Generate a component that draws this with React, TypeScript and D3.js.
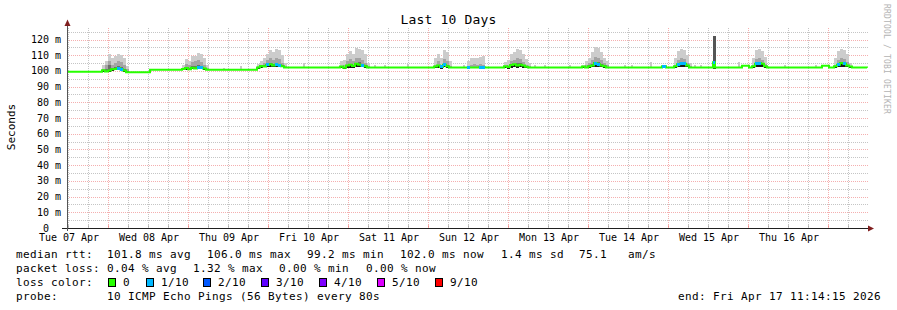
import React from 'react';
import * as d3 from 'd3';

const W = 897;
const H = 310;
const START = Date.UTC(2026, 3, 7, 11, 42);
const SPAN_HOURS = 240;

const title = 'Last 10 Days';
const yLabel = 'Seconds';
const watermark = 'RRDTOOL / TOBI OETIKER';
const dayLabels = ['Tue 07 Apr', 'Wed 08 Apr', 'Thu 09 Apr', 'Fri 10 Apr', 'Sat 11 Apr', 'Sun 12 Apr', 'Mon 13 Apr', 'Tue 14 Apr', 'Wed 15 Apr', 'Thu 16 Apr'];
const yTicks = [0, 10, 20, 30, 40, 50, 60, 70, 80, 90, 100, 110, 120];

// [hours since start, median ms, lost pings]
const medianPts: [number, number, number][] = [
  [0, 99.4, 0],
  [10.5, 100.5, 0], [11.4, 99.6, 0], [12.3, 100.2, 0], [13.2, 101.0, 0], [14.1, 101.3, 0],
  [15.0, 101.8, 1], [15.9, 101.0, 1], [16.8, 100.3, 0], [17.7, 99.2, 0],
  [24.9, 100.8, 0],
  [34.5, 101.2, 0], [35.4, 101.8, 0], [36.3, 101.0, 0], [37.2, 102.0, 0], [38.1, 101.5, 0],
  [39.0, 102.3, 1], [39.9, 102.0, 1], [40.8, 101.5, 0], [41.7, 100.8, 0],
  [57.0, 102.2, 0], [57.9, 103.2, 0], [58.8, 102.8, 0], [59.7, 103.8, 1], [60.6, 104.2, 0],
  [61.5, 103.5, 0], [62.4, 104.0, 1], [63.3, 103.6, 1], [64.2, 103.0, 0], [65.1, 102.2, 0],
  [81.9, 102.8, 0], [82.8, 102.0, 0], [83.7, 103.5, 0], [84.6, 104.0, 0], [85.5, 103.2, 0],
  [86.4, 104.5, 0], [87.3, 104.0, 0], [88.2, 103.5, 1], [89.1, 103.0, 0], [90.0, 102.2, 0],
  [110.1, 102.8, 0], [111.0, 103.5, 0], [111.9, 102.5, 1], [112.8, 104.0, 1], [113.7, 103.0, 0], [114.6, 102.2, 0],
  [120.0, 102.2, 1], [120.9, 102.2, 0], [123.6, 102.4, 1], [125.4, 102.2, 0],
  [131.1, 103.0, 0], [132.0, 102.5, 0], [132.9, 103.8, 0], [133.8, 104.2, 0], [134.7, 103.5, 0],
  [135.6, 104.0, 0], [136.5, 103.5, 0], [137.4, 102.6, 0], [138.3, 102.2, 0],
  [154.5, 102.8, 0], [155.4, 102.2, 0], [156.3, 103.0, 0], [157.2, 103.5, 0], [158.1, 105.0, 1],
  [159.0, 104.2, 1], [159.9, 103.5, 0], [160.8, 103.0, 0], [161.7, 102.2, 0],
  [178.5, 103.0, 1], [179.7, 102.2, 0],
  [182.1, 103.0, 0], [183.0, 104.2, 1], [183.9, 104.8, 1], [184.8, 104.5, 1], [185.7, 103.5, 0], [186.6, 102.2, 0],
  [193.8, 105.5, 1], [194.4, 102.2, 0],
  [202.5, 103.3, 0], [204.6, 102.2, 0],
  [205.5, 103.0, 0], [206.4, 104.5, 1], [207.3, 105.0, 1], [208.2, 104.5, 0], [209.1, 103.0, 0], [210.0, 102.2, 0],
  [226.5, 103.3, 0], [228.6, 102.2, 0],
  [230.1, 103.0, 0], [231.0, 104.0, 1], [231.9, 105.0, 0], [232.8, 104.5, 1], [233.7, 103.5, 0],
  [234.6, 102.8, 0], [235.5, 102.2, 0],
  [240, 102.0, 0],
];

// [hours since start, lowest ping, dark band top, mid band top, highest ping]
const smoke: [number, number, number, number, number][] = [
  [10.5, 99.4, 100.5, 101, 103.5], [11.4, 99.0, 101.5, 104, 106], [12.3, 99.5, 104, 106, 110.5],
  [13.2, 100.0, 102, 104, 108], [14.1, 100.5, 102.5, 105, 109.5], [15.0, 100.5, 103, 106, 111],
  [15.9, 100.0, 102.5, 105.5, 110], [16.8, 99.5, 101.5, 104, 108], [17.7, 99.3, 100, 101, 103],

  [34.5, 100.5, 101.2, 102, 104], [35.4, 100.3, 102.5, 104.5, 107.5], [36.3, 100.8, 101.8, 103.5, 106],
  [37.2, 101.0, 103, 105.5, 109.5], [38.1, 101.0, 103, 106, 109.5], [39.0, 101.2, 104, 107, 111.5],
  [39.9, 101.0, 103, 105.5, 110.5], [40.8, 100.8, 102, 104, 108.5], [41.7, 100.6, 101.2, 102, 104],

  [57.0, 101.5, 102.5, 103, 104.5], [57.9, 102.0, 103, 104, 106], [58.8, 102.5, 103.5, 105, 108],
  [59.7, 102.5, 104.5, 107, 110.5], [60.6, 102.8, 105, 108, 113], [61.5, 102.5, 104.5, 107, 112],
  [62.4, 102.8, 105, 108, 114], [63.3, 102.5, 104.5, 107.5, 113], [64.2, 102.3, 103.5, 105, 110],
  [65.1, 102.0, 102.5, 103, 105],

  [81.9, 101.8, 102.5, 103, 106], [82.8, 101.5, 102.8, 104, 107], [83.7, 102.0, 104, 106, 110.5],
  [84.6, 102.0, 104.5, 107.5, 112.5], [85.5, 101.8, 104, 106, 111], [86.4, 102.2, 105, 108, 114.5],
  [87.3, 102.5, 105.5, 108.5, 114], [88.2, 102.3, 104.5, 107, 113], [89.1, 102.0, 103.5, 105, 110.5],
  [90.0, 101.8, 102.5, 103, 105],

  [110.1, 101.8, 103, 104, 108.5], [111.0, 102.0, 104, 106, 111], [111.9, 101.5, 103, 104, 108],
  [112.8, 102.3, 104.5, 107.5, 113.5], [113.7, 102.0, 104, 106, 112], [114.6, 101.8, 102.5, 103, 106],

  [120.0, 101.8, 102.3, 103, 106], [120.9, 102.0, 102.5, 104, 108.5], [121.8, 102.0, 102.5, 104.5, 108.5],
  [122.7, 102.0, 102.5, 104, 108], [123.6, 102.0, 102.6, 104.5, 109], [124.5, 101.8, 102.5, 104, 109.5],

  [131.1, 101.8, 102.5, 103, 105.5], [132.0, 101.5, 102.8, 104, 107], [132.9, 102.0, 104, 106, 111],
  [133.8, 102.2, 104.5, 107, 112], [134.7, 102.0, 105, 108, 114], [135.6, 102.3, 104.8, 107.5, 113.5],
  [136.5, 102.0, 103.8, 105.5, 110.5], [137.4, 101.8, 103, 104, 107.5], [138.3, 101.6, 102.3, 103, 105],

  [154.5, 101.8, 102.3, 102.8, 104], [155.4, 101.8, 102.6, 103.5, 106], [156.3, 102.0, 103.5, 105, 108.5],
  [157.2, 102.2, 104.5, 107, 112], [158.1, 102.5, 105.5, 109, 115.5], [159.0, 102.8, 105.5, 108.5, 114.5],
  [159.9, 102.5, 104.5, 107, 112], [160.8, 102.0, 103.5, 105, 108.5], [161.7, 101.8, 102.6, 103.5, 106],

  [182.1, 102.0, 103, 104, 108], [183.0, 102.5, 104.5, 107, 112.5], [183.9, 102.8, 105, 108, 114],
  [184.8, 102.5, 104.8, 107.5, 113.5], [185.7, 102.2, 103.5, 105, 110], [186.6, 101.8, 102.5, 103, 105],

  [193.8, 101.5, 122.4, 122.4, 122.4],

  [205.5, 102.0, 103, 104, 108], [206.4, 102.5, 105, 107.5, 113.5], [207.3, 102.8, 105.5, 108, 114],
  [208.2, 102.5, 104.5, 107, 112.5], [209.1, 102.0, 103.2, 104.5, 109],

  [230.1, 101.8, 103, 104, 108], [231.0, 102.5, 104.5, 107, 112.5], [231.9, 102.8, 105.5, 108.5, 114],
  [232.8, 102.5, 105, 107.5, 113.5], [233.7, 102.2, 104, 105.5, 110.5], [234.6, 101.8, 102.5, 103, 105],
];

// isolated single outlier pings: [hours since start, highest ping]
const blips: [number, number][] = [
  [46.8, 101.8], [51.9, 103.3], [70.8, 105], [92.1, 104], [95.1, 104], [102.0, 104.5],
  [118.8, 104], [140.1, 104], [143.1, 103.5], [150.6, 103.5], [167.1, 104], [169.2, 103.6],
  [174.9, 105.6], [188.1, 103.8], [189.9, 103.5], [201.3, 105.6], [215.1, 104], [224.4, 103.8],
];

const lossColors = ['#26ff00', '#00b8ff', '#0059ff', '#5e00ff', '#7e00ff', '#dd00ff', '#ff0000'];
const lossLabels = ['0', '1/10', '2/10', '3/10', '4/10', '5/10', '9/10'];

const rttLegend = [
  { text: '101.8 ms avg', x: 107 },
  { text: '106.0 ms max', x: 207 },
  { text: '99.2 ms min', x: 307 },
  { text: '102.0 ms now', x: 400 },
  { text: '1.4 ms sd', x: 501 },
  { text: '75.1   am/s', x: 579 },
];
const lossLegend = [
  { text: '0.04 % avg', x: 107 },
  { text: '1.32 % max', x: 193 },
  { text: '0.00 % min', x: 279 },
  { text: '0.00 % now', x: 366 },
];
const lossBoxX = [108, 146, 203, 261, 319, 377, 435];
const probeText = '10 ICMP Echo Pings (56 Bytes) every 80s';
const endText = 'end: Fri Apr 17 11:14:15 2026';

const MONO = '"DejaVu Sans Mono", "Liberation Mono", monospace';
const toDate = (h: number) => new Date(START + h * 3600e3);

const GRID_MINOR = 'rgba(150,150,150,0.55)';
const GRID_MAJOR = 'rgba(235,110,110,0.55)';

export default function App() {
  const x = d3.scaleTime().domain([toDate(0), toDate(SPAN_HOURS)]).range([67, 867]);
  const y = d3.scaleLinear().domain([0, 120]).range([228, 39.5]);
  const plotTop = 28;
  const colW = 0.9;

  const hGrid = d3.range(5, 130, 5).filter((v) => y(v) >= plotTop);
  const vGrid = d3.utcHour.every(6)!.range(toDate(0), toDate(SPAN_HOURS));
  const noonList = d3.utcDay
    .range(new Date(Date.UTC(2026, 3, 7)), toDate(SPAN_HOURS))
    .map((d) => new Date(+d + 12 * 3600e3));

  const bis = d3.bisector((d: [number, number, number]) => d[0]).right;
  const medianAt = (h: number) => medianPts[Math.max(0, bis(medianPts, h) - 1)][1];

  const lineGen = d3.line<[number, number, number]>()
    .x((d) => x(toDate(d[0])))
    .y((d) => y(d[1]))
    .curve(d3.curveStepAfter);

  const crisp = (v: number) => Math.round(v) + 0.5;

  return (
    <svg width={W} height={H} style={{ position: 'absolute', left: 0, top: 0, background: '#ffffff' }} fontFamily={MONO}>
      <rect x={0} y={0} width={W} height={H} fill="#ffffff" />
      {/* grid */}
      <g shapeRendering="crispEdges">
        {hGrid.map((v) => (
          <line key={'h' + v} x1={67} x2={869} y1={crisp(y(v))} y2={crisp(y(v))}
            stroke={v % 10 === 0 ? GRID_MAJOR : GRID_MINOR} strokeDasharray="1,1" />
        ))}
        {vGrid.map((d) => {
          const major = d.getUTCHours() === 0;
          const xx = crisp(x(d));
          const col = major ? GRID_MAJOR : GRID_MINOR;
          return (
            <g key={'v' + +d}>
              <line x1={xx} x2={xx} y1={plotTop} y2={228} stroke={col} strokeDasharray="1,1" />
              <line x1={xx} x2={xx} y1={225} y2={228} stroke={col} />
            </g>
          );
        })}
      </g>
      {/* smoke */}
      <g shapeRendering="crispEdges">
        {blips.map(([h, top], i) => (
          <rect key={'b' + i} x={x(toDate(h))} width={x(toDate(h + 0.6)) - x(toDate(h))}
            y={y(top)} height={y(medianAt(h)) - y(top)} fill="#c8c8c8" />
        ))}
        {smoke.map(([h, lo, dark, mid, top], i) => {
          const x0 = x(toDate(h));
          const w = x(toDate(h + colW)) - x0;
          const med = medianAt(h);
          return (
            <g key={'s' + i}>
              <rect x={x0} width={w} y={y(top)} height={y(lo) - y(top)} fill="#cccccc" />
              <rect x={x0} width={w} y={y(mid)} height={y(lo) - y(mid)} fill="#a4a4a4" />
              <rect x={x0} width={w} y={y(dark)} height={y(lo) - y(dark)} fill={top === mid ? '#555555' : '#6e6e6e'} />
              {lo < med ? <rect x={x0} width={w} y={y(med)} height={y(lo) - y(med)} fill="#1a1a1a" /> : null}
            </g>
          );
        })}
      </g>
      {/* median */}
      <path d={lineGen(medianPts) || ''} fill="none" stroke={lossColors[0]} strokeWidth={2} />
      <g shapeRendering="crispEdges">
        {medianPts.slice(0, -1).map((p, i) => p[2] > 0 ? (
          <rect key={'l' + i} x={x(toDate(p[0]))} width={x(toDate(medianPts[i + 1][0])) - x(toDate(p[0]))}
            y={y(p[1]) - 1.5} height={3} fill={lossColors[p[2]]} />
        ) : null)}
      </g>
      {/* axes */}
      <g shapeRendering="crispEdges">
        <line x1={62} x2={869} y1={228.5} y2={228.5} stroke="#1f1f1f" />
        <line x1={67.5} x2={67.5} y1={231} y2={25} stroke="#555555" />
      </g>
      <polygon points="874,228.5 868,225.5 868,231.5" fill="#801f1f" />
      <polygon points="67.5,19.5 64.5,26 70.5,26" fill="#801f1f" />
      {/* y labels */}
      <g fontSize={10} fill="#000">
        {yTicks.map((v) => (
          <text key={'yl' + v} x={v === 0 ? 49 : 61} y={y(v) + 3.5} textAnchor="end">{v === 0 ? '0' : `${v} m`}</text>
        ))}
      </g>
      {/* x labels */}
      <g fontSize={10} fill="#000">
        {noonList.slice(0, dayLabels.length).map((d, i) => (
          <text key={'xl' + i} x={x(d) + 1} y={241} textAnchor="middle">{dayLabels[i]}</text>
        ))}
      </g>
      <text x={448.5} y={24} textAnchor="middle" fontSize={13} letterSpacing={0.17}>{title}</text>
      <text transform="translate(15,127) rotate(-90)" textAnchor="middle" fontSize={11}>{yLabel}</text>
      <text transform="translate(884,4) rotate(90)" fontSize={8} letterSpacing={0.18} fill="#b3b3b3">{watermark}</text>
      {/* legend */}
      <g fontSize={11} letterSpacing={0.38} fill="#000">
        <text x={16} y={258}>median rtt:</text>
        {rttLegend.map((s, i) => <text key={'r' + i} x={s.x} y={258} style={{ whiteSpace: 'pre' }}>{s.text}</text>)}
        <text x={16} y={272}>packet loss:</text>
        {lossLegend.map((s, i) => <text key={'p' + i} x={s.x} y={272}>{s.text}</text>)}
        <text x={16} y={286}>loss color:</text>
        {lossBoxX.map((bx, i) => (
          <g key={'c' + i}>
            <rect x={bx + 0.5} y={278.5} width={7} height={8} fill={lossColors[i]} stroke="#000" shapeRendering="crispEdges" />
            <text x={bx + 15} y={286}>{lossLabels[i]}</text>
          </g>
        ))}
        <text x={16} y={300}>probe:</text>
        <text x={107} y={300}>{probeText}</text>
        <text x={881} y={300} textAnchor="end">{endText}</text>
      </g>
    </svg>
  );
}
